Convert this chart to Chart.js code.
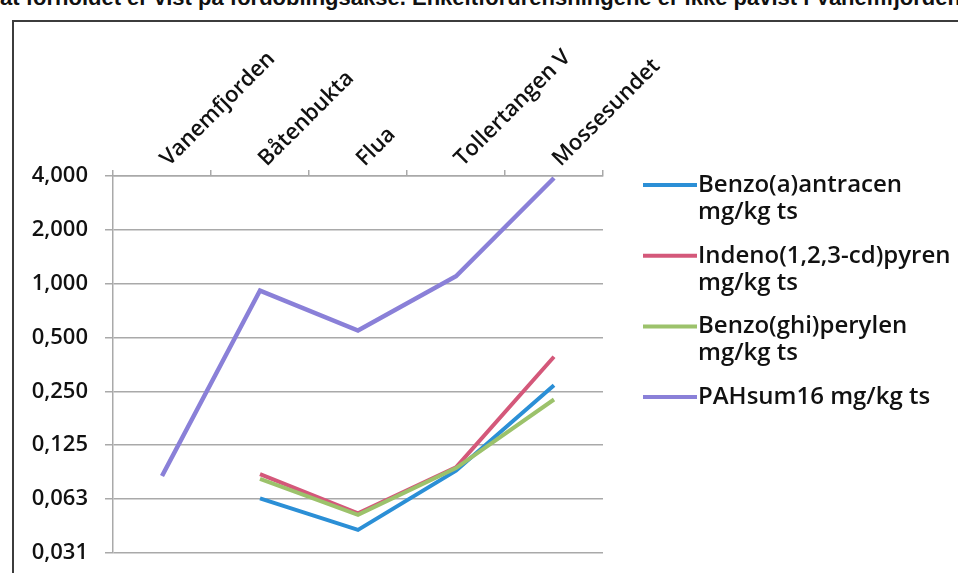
<!DOCTYPE html>
<html>
<head>
<meta charset="utf-8">
<script src="https://cdn.jsdelivr.net/npm/chart.js"></script>
<style>
    html, body { margin: 0; padding: 0; background: #fff; }
    body { width: 958px; height: 573px; position: relative; overflow: hidden; }
    .overskrift {
        position: absolute; left: 0; top: -15px; white-space: nowrap;
        font: bold 22px 'Liberation Sans', Arial, sans-serif; color: #111;
    }
    .ramme {
        position: absolute; left: 12px; top: 20px; width: 1000px; height: 600px;
        border-left: 2px solid #3c3c3c; border-top: 2px solid #3c3c3c;
    }
    #pahChart { position: absolute; left: 0; top: 0; }
</style>
</head>
<body>
<div class="overskrift">at forholdet er vist på fordoblingsakse. Enkeltforurensningene er ikke påvist i Vanemfjorden</div>
<div class="ramme"></div>
<canvas id="pahChart" width="958" height="583"></canvas>
<script>
// Stasjoner (kategorier) og verdier, mg/kg ts
const stasjoner = ['Vanemfjorden', 'Båtenbukta', 'Flua', 'Tollertangen V', 'Mossesundet'];
const benzoAntracen = [null, 0.063, 0.042, 0.090, 0.27];
const indenoPyren = [null, 0.086, 0.052, 0.094, 0.39];
const benzoPerylen = [null, 0.081, 0.051, 0.093, 0.225];
const pahSum16 = [0.084, 0.915, 0.547, 1.10, 3.9];

// Fordoblingsakse
const yTicks = [0.03125, 0.0625, 0.125, 0.25, 0.5, 1, 2, 4];
const yTickLabels = ['0,031', '0,063', '0,125', '0,250', '0,500', '1,000', '2,000', '4,000'];

const legendLabels = [
    ['Benzo(a)antracen', 'mg/kg ts'],
    ['Indeno(1,2,3-cd)pyren', 'mg/kg ts'],
    ['Benzo(ghi)perylen', 'mg/kg ts'],
    ['PAHsum16 mg/kg ts']
];

const farger = ['#2b8fd6', '#d4587a', '#9cc26b', '#8a80d8'];
const font = { family: "'Open Sans', sans-serif", size: 22, weight: '600' };
const gridFarge = '#a9a9a9';

// Egen legende til høyre, med tekst på to linjer
const legendePlugin = {
    id: 'legende',
    afterDraw(chart) {
        const ctx = chart.ctx;
        const startY = 185;
        const linjeHoyde = 27;
        const steg = 70.7;
        ctx.save();
        ctx.font = `${font.weight} 24px ${font.family}`;
        ctx.textBaseline = 'middle';
        ctx.fillStyle = '#111';
        chart.data.datasets.forEach((ds, i) => {
            const y = startY + i * steg;
            ctx.strokeStyle = ds.borderColor;
            ctx.lineWidth = 4;
            ctx.beginPath();
            ctx.moveTo(643, y);
            ctx.lineTo(697, y);
            ctx.stroke();
            legendLabels[i].forEach((tekst, j) => {
                ctx.fillText(tekst, 698, y + j * linjeHoyde);
            });
        });
        ctx.restore();
    }
};

const seriesData = [benzoAntracen, indenoPyren, benzoPerylen, pahSum16];

new Chart(document.getElementById('pahChart'), {
    type: 'line',
    data: {
        labels: stasjoner,
        datasets: seriesData.map((data, i) => ({
            label: legendLabels[i].join(' '),
            data: data,
            borderColor: farger[i],
            backgroundColor: farger[i],
            borderWidth: i === 3 ? 4.5 : 4,
            pointRadius: 0,
            tension: 0,
            spanGaps: false,
            order: 3 - i
        }))
    },
    options: {
        responsive: false,
        animation: false,
        layout: { padding: { top: 0, left: 0, right: 355, bottom: 0 } },
        plugins: {
            legend: { display: false },
            tooltip: { enabled: false }
        },
        scales: {
            x: {
                type: 'category',
                position: 'top',
                offset: true,
                afterFit: (scale) => { scale.height = 176; },
                grid: {
                    offset: true,
                    drawOnChartArea: false,
                    tickLength: 6,
                    color: gridFarge,
                    lineWidth: 1.5
                },
                border: { color: gridFarge, width: 1.5 },
                ticks: {
                    minRotation: 45,
                    maxRotation: 45,
                    padding: -2,
                    labelOffset: 21,
                    color: '#111',
                    font: font,
                    autoSkip: false
                }
            },
            y: {
                type: 'logarithmic',
                min: 0.03125,
                max: 4,
                afterFit: (scale) => { scale.width = 113; },
                afterBuildTicks: (scale) => {
                    scale.ticks = yTicks.map(v => ({ value: v }));
                },
                grid: {
                    color: gridFarge,
                    lineWidth: 1.5,
                    tickLength: 8
                },
                border: { color: gridFarge, width: 1.5 },
                ticks: {
                    padding: 17,
                    color: '#111',
                    font: font,
                    autoSkip: false,
                    callback: (value, index) => yTickLabels[index]
                }
            }
        }
    },
    plugins: [legendePlugin]
});
</script>
</body>
</html>
